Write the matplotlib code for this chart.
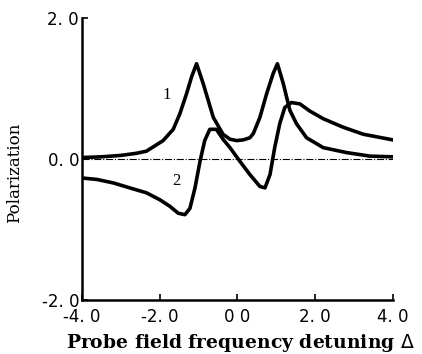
import matplotlib
matplotlib.use("Agg")
import matplotlib.pyplot as plt

# Curve 1 (absorption-like)
x1 = [-4.0, -3.5, -3.0, -2.6, -2.34, -1.91, -1.65, -1.48, -1.31, -1.18, -1.05,
      -0.88, -0.62, -0.37, -0.19, -0.02, 0.15, 0.32, 0.41, 0.58, 0.75, 0.92, 1.03,
      1.18, 1.35, 1.52, 1.78, 2.21, 2.81, 3.41, 4.0]
y1 = [0.02, 0.03, 0.05, 0.08, 0.11, 0.26, 0.42, 0.64, 0.92, 1.16, 1.35,
      1.07, 0.59, 0.35, 0.28, 0.26, 0.27, 0.30, 0.36, 0.59, 0.92, 1.21, 1.35,
      1.07, 0.69, 0.50, 0.30, 0.16, 0.09, 0.04, 0.03]

# Curve 2 (dispersion-like)
x2 = [-4.0, -3.62, -3.19, -2.77, -2.34, -1.99, -1.74, -1.52, -1.35, -1.22, -1.09,
      -0.96, -0.84, -0.71, -0.54, -0.37, -0.19, 0.06, 0.32, 0.58, 0.71, 0.84,
      0.96, 1.09, 1.22, 1.39, 1.61, 1.86, 2.21, 2.72, 3.24, 4.0]
y2 = [-0.27, -0.29, -0.34, -0.41, -0.48, -0.58, -0.67, -0.77, -0.79, -0.70, -0.41,
      -0.03, 0.26, 0.42, 0.42, 0.28, 0.16, -0.03, -0.22, -0.39, -0.41, -0.22,
      0.16, 0.50, 0.73, 0.80, 0.78, 0.68, 0.57, 0.45, 0.35, 0.27]

xticks = [-4.0, -2.0, 0.0, 2.0, 4.0]
xticklabels = ["-4. 0", "-2. 0", "0 0", "2. 0", "4. 0"]
yticks = [-2.0, 0.0, 2.0]
yticklabels = ["-2. 0", "0. 0", "2. 0"]
curve_labels = ["1", "2"]
label_pos = [(-1.81, 0.90), (-1.56, -0.31)]

fig = plt.figure(figsize=(4.22, 3.54), dpi=100)
ax = fig.add_axes([0.194, 0.1525, 0.737, 0.797])

ax.axhline(0, color="black", lw=0.8, ls="-.", zorder=1)
ax.plot(x1, y1, color="black", lw=2.6, solid_joinstyle="round", solid_capstyle="round", zorder=3)
ax.plot(x2, y2, color="black", lw=2.6, solid_joinstyle="round", solid_capstyle="round", zorder=3)

for t, (tx, ty) in zip(curve_labels, label_pos):
    ax.text(tx, ty, t, fontsize=12, family="Liberation Serif", ha="center", va="center")

ax.set_xlim(-4.0, 4.0)
ax.set_ylim(-2.0, 2.0)
ax.set_xticks(xticks)
ax.set_xticklabels(xticklabels, fontsize=12, family="DejaVu Sans")
ax.set_yticks(yticks)
ax.set_yticklabels(yticklabels, fontsize=12, family="DejaVu Sans")
ax.tick_params(direction="in", length=4, width=1.2)
ax.tick_params(axis="x", pad=6)
ax.tick_params(axis="y", pad=2)

ax.spines["top"].set_visible(False)
ax.spines["right"].set_visible(False)
ax.spines["left"].set_linewidth(1.8)
ax.spines["bottom"].set_linewidth(1.8)

ax.set_xlabel("Probe field frequency detuning $\\Delta$", fontsize=13.5,
              family="DejaVu Serif", fontweight="bold", labelpad=0)
ax.xaxis.set_label_coords(0.51, -0.115)
ax.set_ylabel("Polarization", fontsize=12, family="DejaVu Serif")
ax.yaxis.set_label_coords(-0.19, 0.45)

fig.savefig("out.png", dpi=100)
